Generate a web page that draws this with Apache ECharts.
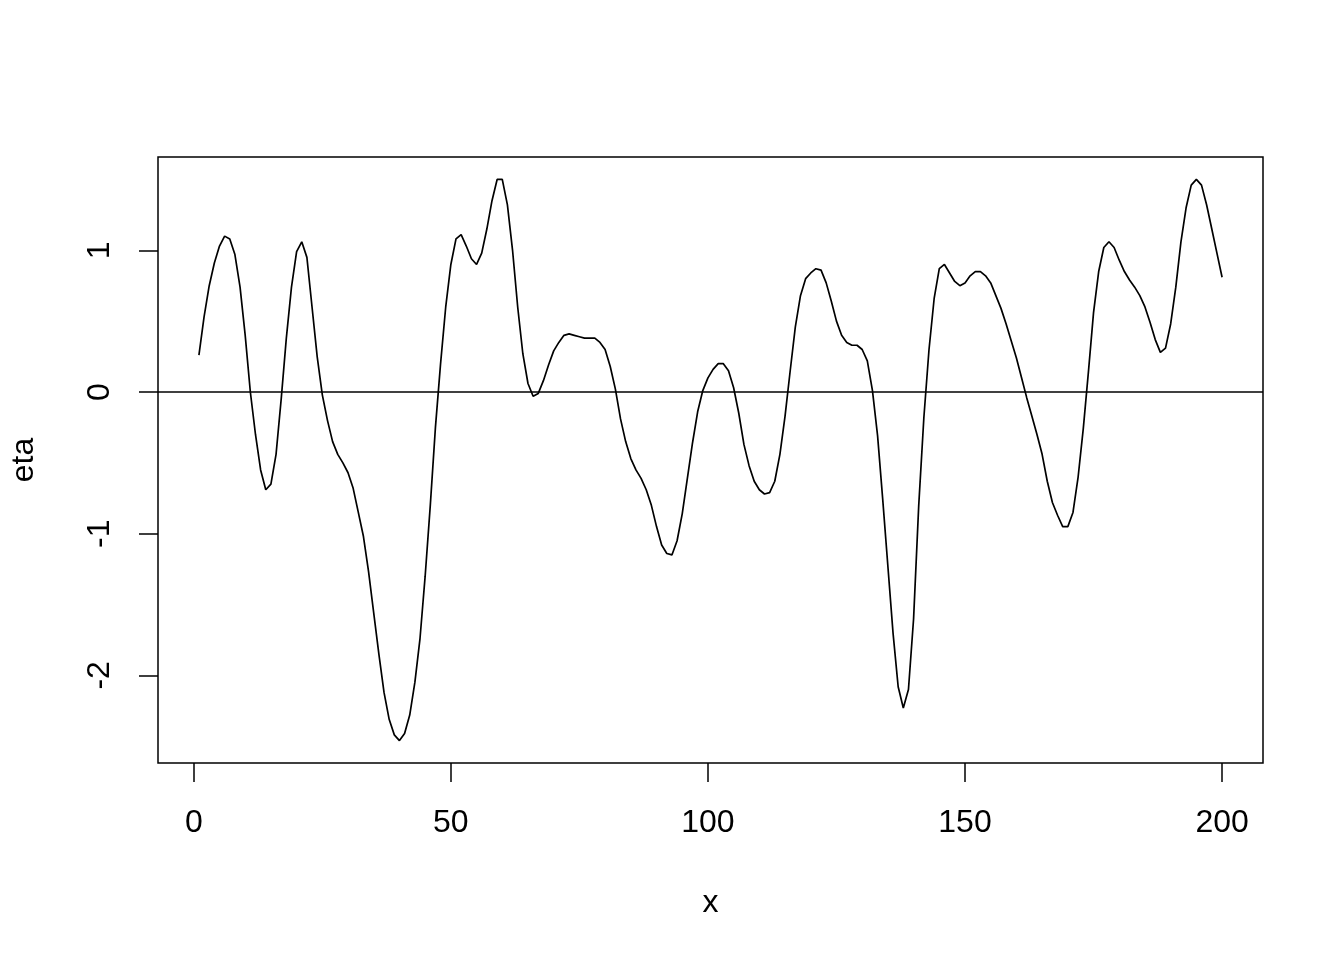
<!DOCTYPE html>
<html>
<head>
<meta charset="utf-8">
<script src="https://cdn.jsdelivr.net/npm/echarts@6/dist/echarts.min.js"></script>
<style>
  html, body { margin: 0; background: #fff; }
  #chart { width: 1344px; height: 960px; }
</style>
</head>
<body>
<div id="chart"></div>
<script>
// eta values at x = 1..200
const eta = [
  0.26, 0.53, 0.75, 0.91, 1.03, 1.10, 1.08, 0.97, 0.74, 0.40,
  0.00, -0.30, -0.55, -0.69, -0.65, -0.44, -0.05, 0.38, 0.74, 0.99,
  1.06, 0.95, 0.60, 0.25, -0.02, -0.20, -0.35, -0.44, -0.50, -0.57,
  -0.68, -0.85, -1.02, -1.27, -1.56, -1.85, -2.12, -2.31, -2.42, -2.46,
  -2.41, -2.28, -2.05, -1.74, -1.30, -0.80, -0.25, 0.20, 0.60, 0.90,
  1.08, 1.11, 1.03, 0.94, 0.90, 0.98, 1.15, 1.35, 1.50, 1.50,
  1.32, 1.00, 0.60, 0.27, 0.06, -0.03, -0.01, 0.08, 0.19, 0.29,
  0.35, 0.40, 0.41, 0.40, 0.39, 0.38, 0.38, 0.38, 0.35, 0.30,
  0.18, 0.02, -0.19, -0.35, -0.47, -0.55, -0.61, -0.69, -0.80, -0.95,
  -1.08, -1.14, -1.15, -1.05, -0.86, -0.61, -0.36, -0.14, 0.01, 0.10,
  0.16, 0.20, 0.20, 0.15, 0.03, -0.15, -0.37, -0.52, -0.63, -0.69,
  -0.72, -0.71, -0.63, -0.44, -0.17, 0.15, 0.46, 0.68, 0.80, 0.84,
  0.87, 0.86, 0.77, 0.64, 0.50, 0.40, 0.35, 0.33, 0.33, 0.30,
  0.22, 0.01, -0.31, -0.76, -1.23, -1.70, -2.08, -2.23, -2.10, -1.60,
  -0.80, -0.18, 0.30, 0.66, 0.87, 0.90, 0.84, 0.78, 0.75, 0.77,
  0.82, 0.85, 0.85, 0.82, 0.77, 0.68, 0.59, 0.48, 0.36, 0.24,
  0.10, -0.04, -0.17, -0.30, -0.44, -0.63, -0.78, -0.87, -0.95, -0.95,
  -0.85, -0.60, -0.26, 0.14, 0.56, 0.85, 1.02, 1.06, 1.02, 0.93,
  0.85, 0.79, 0.74, 0.68, 0.60, 0.49, 0.37, 0.28, 0.31, 0.48,
  0.74, 1.06, 1.30, 1.46, 1.50, 1.46, 1.32, 1.15, 0.98, 0.81
];
const xTicks = [0, 50, 100, 150, 200];
const yTicks = [-2, -1, 0, 1];

const xs = eta.map((v, i) => i + 1);

// R-style axis ranges: data range padded by 4% each side
const xPad = 0.04 * (xs[xs.length - 1] - xs[0]);
const yMin = Math.min(...eta), yMax = Math.max(...eta);
const yPad = 0.04 * (yMax - yMin);

const font = '"Liberation Sans", Helvetica, Arial, sans-serif';

let mychart = echarts.init(document.getElementById('chart'));
mychart.setOption({
  backgroundColor: '#fff',
  animation: false,
  grid: {
    left: 157, top: 157, right: 81, bottom: 197,
    show: true,
    borderColor: '#000',
    borderWidth: 1.5,
    backgroundColor: 'transparent'
  },
  xAxis: {
    type: 'value',
    min: xs[0] - xPad,
    max: xs[xs.length - 1] + xPad,
    name: 'x',
    nameLocation: 'middle',
    nameGap: 124,
    nameTextStyle: { fontFamily: font, fontSize: 32, color: '#000' },
    axisLine: { show: false, onZero: false },
    splitLine: { show: false },
    axisTick: {
      show: true,
      inside: false,
      length: 19,
      customValues: xTicks,
      lineStyle: { color: '#000', width: 1.5 }
    },
    axisLabel: {
      customValues: xTicks,
      margin: 44,
      fontFamily: font, fontSize: 32, color: '#000'
    }
  },
  yAxis: {
    type: 'value',
    min: yMin - yPad,
    max: yMax + yPad,
    name: 'eta',
    nameLocation: 'middle',
    nameGap: 118,
    nameRotate: 90,
    nameTextStyle: { fontFamily: font, fontSize: 32, color: '#000' },
    axisLine: { show: false, onZero: false },
    splitLine: { show: false },
    axisTick: {
      show: true,
      inside: false,
      length: 19,
      customValues: yTicks,
      lineStyle: { color: '#000', width: 1.5 }
    },
    axisLabel: {
      customValues: yTicks,
      rotate: 90,
      margin: 42,
      fontFamily: font, fontSize: 32, color: '#000'
    }
  },
  series: [
    {
      name: 'eta',
      type: 'line',
      data: xs.map((x, i) => [x, eta[i]]),
      showSymbol: false,
      smooth: false,
      lineStyle: { color: '#000', width: 1.7 },
      markLine: {
        silent: true,
        symbol: 'none',
        label: { show: false },
        lineStyle: { color: '#000', width: 1.7, type: 'solid' },
        data: [{ yAxis: 0 }]
      }
    }
  ]
});
</script>
</body>
</html>
